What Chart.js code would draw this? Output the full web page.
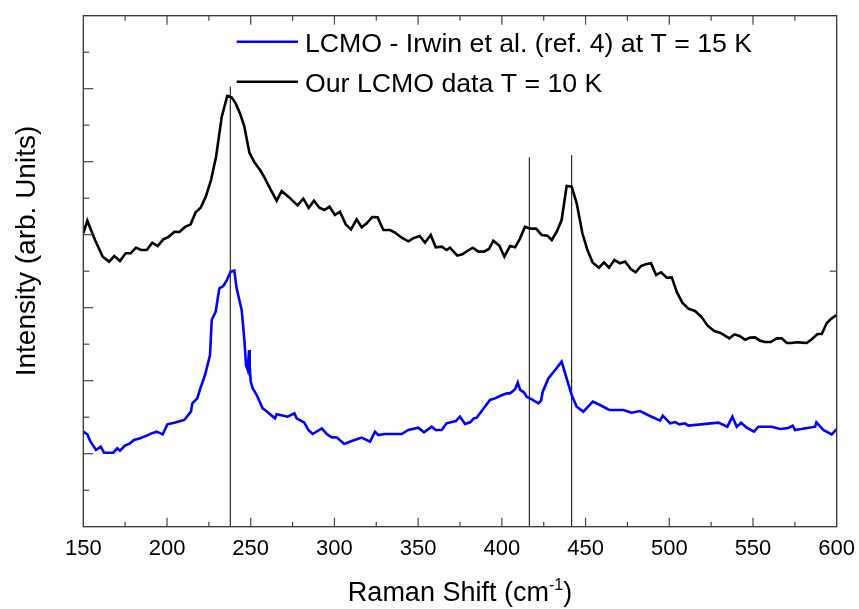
<!DOCTYPE html>
<html>
<head>
<meta charset="utf-8">
<script src="https://cdn.jsdelivr.net/npm/chart.js@4.4.1/dist/chart.umd.min.js"></script>
<style>
  html, body { margin: 0; padding: 0; background: #fff; }
  #wrap { width: 859px; height: 609px; }
</style>
</head>
<body>
<div id="wrap"><canvas id="ramanChart" width="859" height="609"></canvas></div>
<script>
// Irwin et al. (ref. 4), T = 15 K  (blue)
var irwinShift = [150.0,152.4,154.0,157.6,160.4,162.4,167.9,170.3,171.9,174.9,177.9,180.3,183.9,187.9,190.8,193.8,197.4,200.2,204.4,210.3,
  214.3,215.1,218.1,219.7,222.7,225.7,226.7,229.1,230.3,231.3,233.6,235.6,238.0,240.2,241.6,243.2,244.6,245.6,246.2,247.2,
  248.2,249.0,249.4,250.0,251.2,253.6,257.1,258.5,264.5,265.5,272.1,276.1,277.4,282.0,284.4,287.0,292.4,295.4,298.4,301.3,
  305.9,310.3,316.3,321.3,324.2,326.2,330.2,340.2,344.1,350.1,353.5,358.1,360.5,364.1,367.0,372.6,375.0,378.0,381.0,383.4,
  385.0,388.4,392.9,395.9,398.9,402.9,404.9,407.9,409.5,410.9,413.2,414.8,418.4,421.8,423.4,424.4,427.8,431.8,435.7,438.7,
  441.7,444.7,448.7,454.3,458.6,464.2,472.6,477.5,482.5,488.5,494.5,496.1,500.5,503.5,506.0,509.4,511.4,529.3,534.7,537.7,
  540.3,542.9,546.3,550.6,553.2,561.2,566.2,571.1,573.7,575.1,587.1,587.9,592.0,597.0,600.0];
var irwinIntensity = [1.302,1.265,1.179,1.051,1.096,1.014,1.014,1.074,1.042,1.110,1.142,1.188,1.211,1.247,1.279,1.302,1.265,1.402,1.425,1.462,
  1.576,1.690,1.758,1.882,2.078,2.352,2.831,2.946,3.128,3.265,3.297,3.370,3.494,3.507,3.265,3.105,2.968,2.717,2.558,2.215,
  2.147,2.421,2.192,1.987,1.895,1.804,1.622,1.599,1.485,1.539,1.507,1.553,1.485,1.425,1.325,1.270,1.347,1.270,1.224,1.224,
  1.133,1.174,1.220,1.165,1.302,1.256,1.270,1.270,1.325,1.357,1.293,1.370,1.325,1.325,1.416,1.448,1.507,1.407,1.430,1.485,
  1.494,1.599,1.736,1.758,1.790,1.827,1.827,1.882,1.973,1.873,1.841,1.781,1.736,1.690,1.727,1.850,2.032,2.147,2.261,2.032,
  1.804,1.644,1.576,1.713,1.667,1.599,1.599,1.562,1.585,1.516,1.453,1.521,1.416,1.434,1.402,1.416,1.384,1.425,1.370,1.507,
  1.370,1.425,1.357,1.302,1.370,1.370,1.338,1.352,1.384,1.325,1.370,1.430,1.325,1.265,1.338];

// our LCMO data, T = 10 K  (black)
var ourShift = [150.0,152.4,157.0,161.6,165.4,168.5,171.9,175.3,178.3,181.5,184.5,187.9,191.2,194.4,197.8,200.8,204.4,207.4,211.0,214.1,
  217.1,220.1,223.3,226.3,229.3,232.7,236.0,238.6,241.0,243.6,246.2,249.2,252.0,255.6,258.5,261.5,265.5,268.5,272.5,278.0,
  281.4,284.6,287.8,291.0,294.0,297.0,300.3,303.3,306.7,309.9,313.3,316.3,319.3,322.6,325.8,329.2,333.2,336.2,340.2,344.1,
  347.5,350.9,354.1,357.5,360.5,364.1,367.0,369.0,373.4,376.4,379.4,382.6,386.0,389.3,392.3,394.9,398.5,401.5,404.9,407.9,
  410.9,413.8,416.8,420.4,423.8,427.2,429.8,432.8,435.7,438.7,441.7,444.7,448.1,451.1,454.3,458.0,461.0,464.0,467.2,470.6,
  473.6,477.2,479.9,483.1,485.9,489.1,492.1,495.1,498.5,501.5,504.4,507.8,511.4,515.4,519.4,522.9,526.9,530.3,533.3,535.9,
  538.9,541.9,545.3,548.3,551.2,554.2,557.2,560.6,564.2,567.2,570.2,573.1,576.1,579.1,582.1,585.1,588.5,591.1,594.0,597.0,600.0];
var ourIntensity = [4.019,4.192,3.927,3.699,3.631,3.708,3.640,3.745,3.745,3.822,3.790,3.790,3.891,3.845,3.936,3.968,4.041,4.037,4.110,4.142,
  4.306,4.370,4.530,4.749,5.069,5.617,5.900,5.882,5.799,5.662,5.480,5.124,5.000,4.886,4.772,4.635,4.466,4.599,4.521,4.402,
  4.494,4.366,4.466,4.370,4.338,4.384,4.270,4.315,4.142,4.073,4.210,4.101,4.156,4.242,4.238,4.064,4.064,4.028,3.959,3.909,
  3.955,3.982,3.891,3.996,3.827,3.836,3.790,3.822,3.713,3.731,3.777,3.822,3.768,3.768,3.804,3.918,3.850,3.699,3.845,3.827,
  3.950,4.110,4.083,4.083,3.996,3.987,3.927,4.041,4.201,4.667,4.658,4.430,4.019,3.790,3.617,3.548,3.621,3.548,3.653,3.608,
  3.631,3.526,3.484,3.571,3.594,3.608,3.448,3.484,3.411,3.416,3.220,3.069,2.987,2.955,2.868,2.754,2.681,2.658,2.617,2.580,
  2.635,2.612,2.562,2.590,2.594,2.548,2.530,2.530,2.580,2.580,2.516,2.516,2.526,2.521,2.516,2.567,2.640,2.640,2.786,2.854,2.900];

// vertical marker lines (Raman shift, height they reach)
var markerShift = [237.8, 416.4, 441.7];
var markerTop = [6.03, 5.06, 5.09];

var legendLabels = ["LCMO - Irwin et al. (ref. 4) at T = 15 K", "Our LCMO data T = 10 K"];
var xTicks = [150, 200, 250, 300, 350, 400, 450, 500, 550, 600];

function toPoints(xs, ys) {
    var pts = [];
    for (var i = 0; i < xs.length; i++) {
        pts.push({x: xs[i], y: ys[i]});
    }
    return pts;
}

Chart.defaults.font.family = "'Liberation Sans', Arial, sans-serif";
Chart.defaults.color = '#000';

var datasets = [
    {label: legendLabels[0], data: toPoints(irwinShift, irwinIntensity), borderColor: '#0000ff', borderWidth: 2.6},
    {label: legendLabels[1], data: toPoints(ourShift, ourIntensity), borderColor: '#000000', borderWidth: 2.6}
];
for (var m = 0; m < markerShift.length; m++) {
    datasets.push({
        label: 'marker' + m,
        data: [{x: markerShift[m], y: 0}, {x: markerShift[m], y: markerTop[m]}],
        borderColor: '#000', borderWidth: 1
    });
}

// frame, inward ticks, titles and legend
var decorations = {
    id: 'decorations',
    afterDraw: function(chart) {
        var ctx = chart.ctx, a = chart.chartArea;
        var xs = chart.scales.x, ys = chart.scales.y;
        function seg(x1, y1, x2, y2) {
            ctx.beginPath(); ctx.moveTo(x1, y1); ctx.lineTo(x2, y2); ctx.stroke();
        }
        ctx.save();
        ctx.strokeStyle = '#333';
        ctx.lineWidth = 1.3;
        ctx.strokeRect(a.left, a.top, a.right - a.left, a.bottom - a.top);

        ctx.strokeStyle = '#444';
        ctx.lineWidth = 1.2;
        for (var v = 175; v < 600; v += 25) {
            var px = xs.getPixelForValue(v);
            var len = (v % 50 === 0) ? 9 : 5;
            seg(px, a.bottom, px, a.bottom - len);
            seg(px, a.top, px, a.top + len);
        }
        for (var k = 1; k < 14; k++) {
            var py = ys.getPixelForValue(k / 2);
            seg(a.left, py, a.left + ((k % 2 === 0) ? 10 : 6), py);
        }
        seg(a.right, ys.getPixelForValue(3.5), a.right - 7, ys.getPixelForValue(3.5));

        // y title
        ctx.fillStyle = '#000';
        ctx.font = "28px 'Liberation Sans', Arial, sans-serif";
        ctx.textAlign = 'center';
        ctx.textBaseline = 'alphabetic';
        ctx.save();
        ctx.translate(35, 251);
        ctx.rotate(-Math.PI / 2);
        ctx.fillText('Intensity (arb. Units)', 0, 0);
        ctx.restore();

        // x title with superscript
        var big = "27px 'Liberation Sans', Arial, sans-serif";
        var small = "16px 'Liberation Sans', Arial, sans-serif";
        ctx.textAlign = 'left';
        ctx.font = big;
        var w1 = ctx.measureText('Raman Shift (cm').width;
        var w3 = ctx.measureText(')').width;
        ctx.font = small;
        var w2 = ctx.measureText('-1').width;
        var cx = (a.left + a.right) / 2;
        var x0 = cx - (w1 + w2 + w3) / 2;
        var base = 601;
        ctx.font = big;
        ctx.fillText('Raman Shift (cm', x0, base);
        ctx.font = small;
        ctx.fillText('-1', x0 + w1, base - 11);
        ctx.font = big;
        ctx.fillText(')', x0 + w1 + w2, base);

        // legend
        ctx.font = "26.7px 'Liberation Sans', Arial, sans-serif";
        var rows = [41.7, 81.7];
        for (var i = 0; i < 2; i++) {
            ctx.strokeStyle = chart.data.datasets[i].borderColor;
            ctx.lineWidth = 2.6;
            seg(236.7, rows[i], 298, rows[i]);
            ctx.fillText(legendLabels[i], 305, rows[i] + 9.8);
        }
        ctx.restore();
    }
};

new Chart(document.getElementById('ramanChart'), {
    type: 'line',
    data: {datasets: datasets},
    plugins: [decorations],
    options: {
        responsive: false,
        animation: false,
        layout: {padding: {left: 83.3, top: 15.7, right: 22.3, bottom: 0}},
        elements: {line: {tension: 0, fill: false}, point: {radius: 0}},
        plugins: {legend: {display: false}, tooltip: {enabled: false}},
        scales: {
            x: {
                type: 'linear', min: 150, max: 600,
                grid: {display: false, drawTicks: false},
                border: {display: false},
                afterBuildTicks: function(scale) {
                    scale.ticks = xTicks.map(function(t) { return {value: t}; });
                },
                ticks: {font: {size: 22}, padding: 9, color: '#000', maxRotation: 0},
                afterFit: function(scale) {
                    scale.height = 82.3;
                    scale.paddingLeft = 0;
                    scale.paddingRight = 0;
                }
            },
            y: {display: false, min: 0, max: 7}
        }
    }
});
</script>
</body>
</html>
